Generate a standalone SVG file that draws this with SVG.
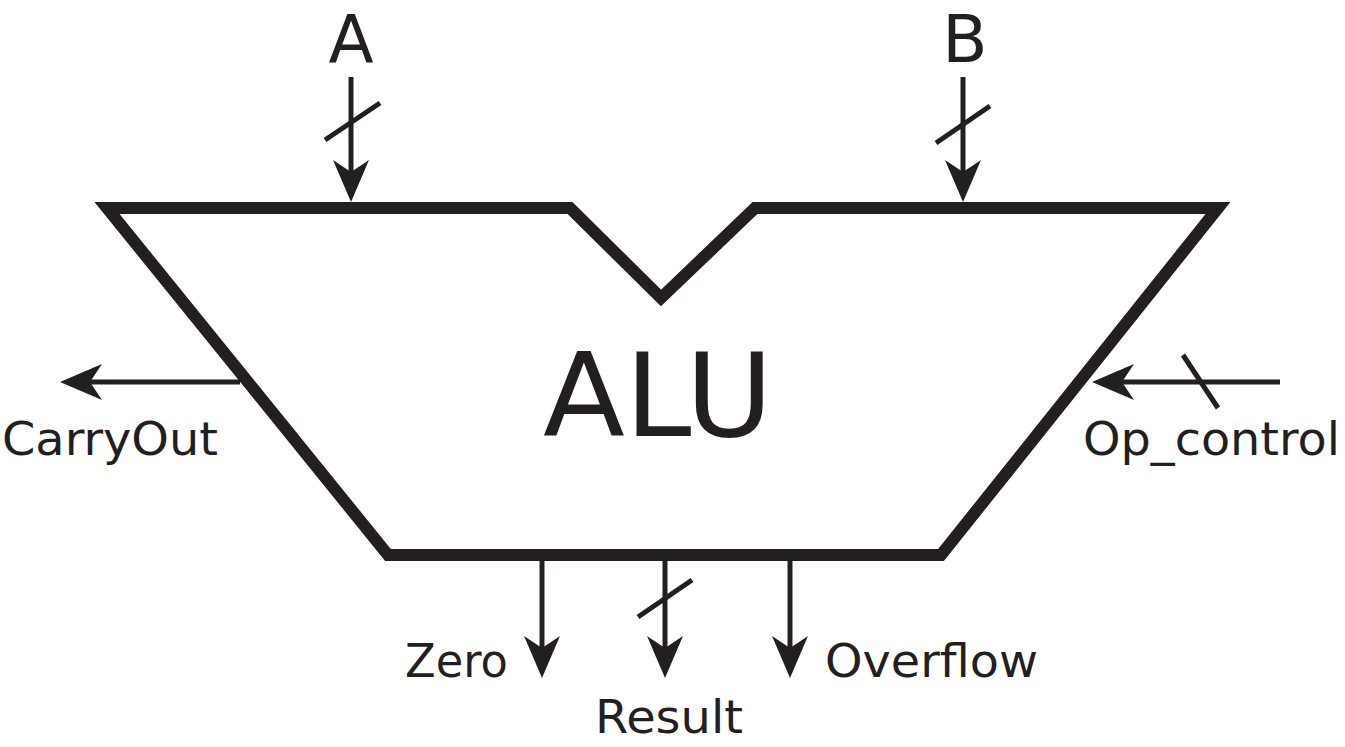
<svg xmlns="http://www.w3.org/2000/svg" width="1345" height="747" viewBox="0 0 1345 747">
<style>
.lbl{font-family:"DejaVu Sans","Liberation Sans",sans-serif;fill:#231f20;font-size:46px}
.wire{stroke:#231f20;stroke-width:5;fill:none}
.bus{stroke:#231f20;stroke-width:5;fill:none}
.body{stroke:#231f20;stroke-width:12;fill:#fff;stroke-linejoin:miter}
</style>
<defs>
<marker id="ah" viewBox="0 0 42 36" refX="12" refY="18" markerWidth="42" markerHeight="36" markerUnits="userSpaceOnUse" orient="auto">
<path d="M42,18 L0,0 L12,18 L0,36 Z" fill="#231f20"/>
</marker>
</defs>
<rect width="1345" height="747" fill="#fff"/>
<g id="alu">
<path class="body" d="M107,208 L570,208 L661,298 L755,208 L1218,208 L941,555 L388,555 Z"/>
<text class="lbl" x="543" y="436" textLength="230" lengthAdjust="spacingAndGlyphs" style="font-size:116px">ALU</text>
</g>
<g id="connectors">
<path class="wire" d="M351,77 L351,172" marker-end="url(#ah)"/>
<path class="bus" d="M325,140 L380,103"/>
<path class="wire" d="M963,77 L963,172" marker-end="url(#ah)"/>
<path class="bus" d="M936,143 L990,106"/>
<path class="wire" d="M240,382 L90,382" marker-end="url(#ah)"/>
<path class="wire" d="M1280,382 L1122,382" marker-end="url(#ah)"/>
<path class="bus" d="M1183,355 L1218,408"/>
<path class="wire" d="M542,561 L542,648" marker-end="url(#ah)"/>
<path class="wire" d="M665,561 L665,648" marker-end="url(#ah)"/>
<path class="bus" d="M638,617 L692,580"/>
<path class="wire" d="M790,561 L790,648" marker-end="url(#ah)"/>
</g>
<g id="label-A"><text class="lbl" x="351" y="62" text-anchor="middle" style="font-size:66px">A</text></g>
<g id="label-B"><text class="lbl" x="965" y="62" text-anchor="middle" style="font-size:66px">B</text></g>
<g id="label-CarryOut"><text class="lbl" x="2" y="455" textLength="216" lengthAdjust="spacingAndGlyphs">CarryOut</text></g>
<g id="label-Op_control"><text class="lbl" x="1083" y="455" textLength="257" lengthAdjust="spacingAndGlyphs">Op_control</text></g>
<g id="label-Zero"><text class="lbl" x="405" y="677" textLength="103" lengthAdjust="spacingAndGlyphs">Zero</text></g>
<g id="label-Result"><text class="lbl" x="595" y="733" textLength="148" lengthAdjust="spacingAndGlyphs">Result</text></g>
<g id="label-Overflow"><text class="lbl" x="825" y="677" textLength="213" lengthAdjust="spacingAndGlyphs">Overflow</text></g>
</svg>
